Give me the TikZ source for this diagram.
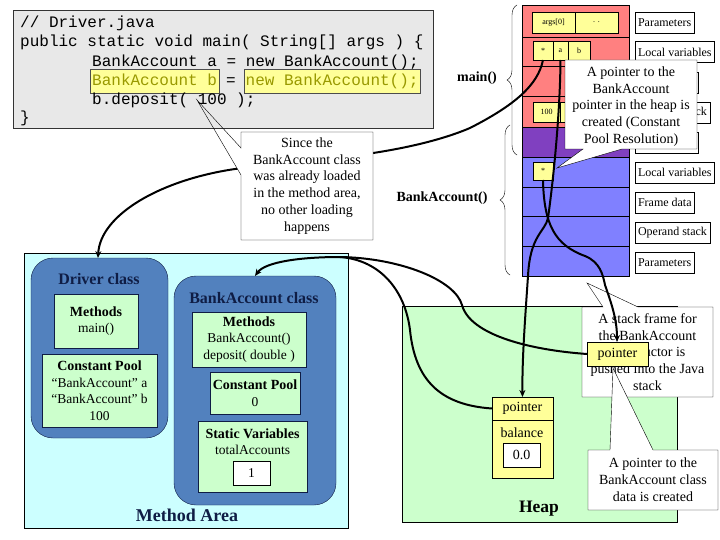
\documentclass[tikz,border=0pt]{standalone}
\usepackage{fontspec}
\setmainfont{Liberation Serif}
\setmonofont{Liberation Mono}
\usepackage{tikz}
\usetikzlibrary{arrows.meta, positioning, calc, decorations.pathreplacing}
\definecolor{jvmsalmon}{HTML}{FF8080}
\definecolor{jvmpurple}{HTML}{8040C0}
\definecolor{jvmblue}{HTML}{8080FF}
\definecolor{jvmyellow}{HTML}{FFFF99}
\definecolor{jvmgreen}{HTML}{CCFFCC}
\definecolor{jvmcyan}{HTML}{CCFFFF}
\definecolor{jvmclass}{HTML}{5281BE}
\definecolor{jvmnavy}{HTML}{0F1D45}
\definecolor{jvmcode}{HTML}{E8E8E8}
\definecolor{jvmolive}{HTML}{999900}

\begin{document}
\begin{tikzpicture}[x=1pt, y=-1pt,
    codeline/.style={anchor=base west, inner sep=0pt, font=\ttfamily\fontsize{16}{19}\selectfont},
    hlbox/.style={codeline, fill=jvmyellow, draw=black!70, text=jvmolive, inner xsep=2pt, inner ysep=4pt, text height=13pt, text depth=3pt},
    cell/.style={draw=black, fill=jvmyellow, inner sep=0pt, outer sep=0pt, anchor=north west, font=\fontsize{8}{9}\selectfont},
    slabel/.style={draw=black, fill=white, inner xsep=3pt, inner ysep=0pt, outer sep=0pt, minimum height=21, anchor=west, font=\fontsize{12}{14}\selectfont},
    calltext/.style={align=center, inner sep=0pt, font=\fontsize{14}{16.8}\selectfont},
    greenbox/.style={draw=jvmnavy, fill=jvmgreen, inner sep=0pt, outer sep=0pt, anchor=north west, align=center, font=\fontsize{13.5}{16.5}\selectfont},
    classbox/.style={draw=jvmnavy, fill=jvmclass, rounded corners=22pt, inner sep=0pt, outer sep=0pt, anchor=north west},
    ptr/.style={line width=2pt, -{Stealth[length=7pt, width=6pt]}},
    wire/.style={line width=2pt}
]
    \useasboundingbox (0,0) rectangle (720,540);

    % Java stack
    \fill[jvmsalmon] (522,5) rectangle (629,127);
    \fill[jvmpurple] (522,127) rectangle (629,157);
    \fill[jvmblue] (522,157) rectangle (629,276);
    \draw (522,5) rectangle (629,276);
    \foreach \y in {37,66,96,127,157,187,216,246}
        \draw (522,\y) -- (629,\y);

    \node[cell, minimum width=43, minimum height=21] (args) at (532,12) {args[0]};
    \node[cell, minimum width=43, minimum height=21] (dots) at (575,12) {. .};
    \node[cell, minimum width=20, minimum height=19] (mstar) at (533,41) {*};
    \node[cell, minimum width=15, minimum height=19] (ma) at (553,41) {a};
    \node[cell, minimum width=22, minimum height=19] (mb) at (568,41) {b};
    \node[cell, minimum width=27, minimum height=20] (hundred) at (533,102) {100};
    \node[cell, minimum width=40, minimum height=20] (nextcell) at (560,102) {};
    \node[cell, minimum width=20, minimum height=18] (bstar) at (533,162) {*};

    \node[slabel] (mparams) at (635,22.5) {Parameters};
    \node[slabel] (mlocals) at (635,52) {Local variables};
    \node[slabel, minimum width=63] (mframe) at (635,82.5) {};
    \node[slabel] (mopstack) at (635,112.5) {\phantom{Operand sta}ck};
    \node[slabel, minimum width=63] (mshared) at (635,142.5) {};
    \node[slabel] (blocals) at (635,172.5) {Local variables};
    \node[slabel] (bframe) at (635,202.5) {Frame data};
    \node[slabel] (bopstack) at (635,232.5) {Operand stack};
    \node[slabel] (bparams) at (635,262.5) {Parameters};

    % Frame braces
    \draw[decorate, decoration={brace, amplitude=10pt}] (517,155) -- (517,5);
    \draw[decorate, decoration={brace, amplitude=10pt}] (510,275) -- (510,125);
    \node[font=\bfseries\fontsize{14}{16}\selectfont] (mainlbl) at (477,78) {main()};
    \node[font=\bfseries\fontsize{14}{16}\selectfont] (ctorlbl) at (442,198) {BankAccount()};

    % Heap
    \draw[fill=jvmgreen] (402,306) rectangle (677,522);
    \node[font=\bfseries\fontsize{17.5}{20}\selectfont] (heaplbl) at (539,509) {Heap};
    \node[cell, minimum width=61, minimum height=23, font=\fontsize{14}{16}\selectfont] (hptr) at (492,397) {pointer};
    \node[cell, minimum width=61, minimum height=58] (hbody) at (492,420) {};
    \node[font=\fontsize{14}{16}\selectfont] (hbal) at (522,433) {balance};
    \node[draw=black, fill=white, minimum width=37, minimum height=24, inner sep=0pt, font=\fontsize{14}{16}\selectfont] (hval) at (521.5,455) {0.0};

    % Method area
    \draw[fill=jvmcyan] (24,253) rectangle (348,528);
    \node[font=\bfseries\fontsize{18}{20}\selectfont, text=jvmnavy] (malbl) at (187,515) {Method Area};

    \node[classbox, minimum width=137, minimum height=180] (drv) at (31,258) {};
    \node[font=\bfseries\fontsize{16}{18}\selectfont, text=jvmnavy] (drvlbl) at (99,279) {Driver class};
    \node[greenbox, minimum width=84, minimum height=54] (drvmeth) at (54,294)
        {\textbf{\fontsize{14}{16.5}\selectfont Methods}\\main()};
    \node[greenbox, minimum width=115, minimum height=73] (drvpool) at (42,354)
        {\textbf{\fontsize{14}{16.5}\selectfont Constant Pool}\\“BankAccount” a\\“BankAccount” b\\100};

    \node[classbox, minimum width=162, minimum height=229] (bac) at (174,276) {};
    \node[font=\bfseries\fontsize{16}{18}\selectfont, text=jvmnavy] (baclbl) at (254,298) {BankAccount class};
    \node[greenbox, minimum width=114, minimum height=55] (bacmeth) at (192,312)
        {\textbf{\fontsize{14}{16.5}\selectfont Methods}\\BankAccount()\\deposit( double )};
    \node[greenbox, minimum width=90, minimum height=42] (bacpool) at (210,372)
        {\textbf{\fontsize{14}{16.5}\selectfont Constant Pool}\\0};
    \node[greenbox, minimum width=109, minimum height=71] (bacstat) at (198,421) {};
    \node[align=center, inner sep=0pt, font=\fontsize{13.5}{16.5}\selectfont] (bacstatlbl) at (252.5,441.5)
        {\textbf{\fontsize{14}{16.5}\selectfont Static Variables}\\totalAccounts};
    \node[draw=black, fill=white, minimum width=37, minimum height=24, inner sep=0pt, font=\fontsize{13.5}{16}\selectfont] (bacval) at (251.5,473) {1};

    % main's first local var back to the Driver class
    \draw[ptr] (mstar.south) .. controls (538,85) and (515,105) .. (470,128)
        .. controls (430,145) and (380,152) .. (360,155)
        -- (235,169) .. controls (160,180) and (100,215) .. (drv.north -| 98,258);

    % Callout: class already loaded
    \fill[white] (241,132) -- (373,132) -- (373,240) -- (241,240) -- (241,175) -- (197,100) -- (241,148) -- cycle;

    % Code
    \draw[fill=jvmcode, draw=black!80] (13,10) rectangle (433,128);
    \node[codeline] (c1) at (20,28) {// Driver.java};
    \node[codeline] (c2) at (20,47) {public static void main( String[] args ) \{};
    \node[codeline] (c3) at (92,67) {BankAccount a = new BankAccount();};
    \node[hlbox] (c4a) at (90,86) {BankAccount b};
    \node[codeline] (c4b) at (226,86) {=};
    \node[hlbox] (c4c) at (243.5,86) {new BankAccount();};
    \node[codeline] (c5) at (92,105) {b.deposit( 100 );};
    \node[codeline] (c6) at (20,123) {\}};

    \draw (241,132) -- (373,132) -- (373,240) -- (241,240) -- (241,175) -- (197,100) -- (241,148) -- cycle;
    \node[calltext] (loadedtxt) at (307,186)
        {Since the\\BankAccount class\\was already loaded\\in the method area,\\no other loading\\happens};

    % Callout: constant pool resolution
    \draw[fill=white] (565,60) -- (697,60) -- (697,149) -- (622,149) -- (557,168) -- (583,149) -- (565,149) -- cycle;
    \node[calltext] (resolvetxt) at (631,106.5)
        {A pointer to the\\BankAccount\\pointer in the heap is\\created (Constant\\Pool Resolution)};

    % Callout: new stack frame
    \draw[fill=white] (582,307) -- (603,307) -- (587,283) -- (638,307) -- (713,307) -- (713,397) -- (582,397) -- cycle;
    \node[calltext] (frametxt) at (647.5,352)
        {A stack frame for\\the BankAccount\\constructor is\\pushed into the Java\\stack};

    % Stack references into the heap
    \draw[ptr] (ma.south) .. controls (560,120) and (552,190) .. (548,218)
        .. controls (545,232) and (530,235) .. (528,276)
        .. controls (525,320) and (522,360) .. (hptr.north);
    \coordinate (fptrtop) at (617,342);
    \draw[ptr] (bstar.south) .. controls (544,225) and (555,245) .. (585,256)
        .. controls (600,262) and (603,275) .. (605,285)
        .. controls (612,305) and (617,320) .. (fptrtop);

    % Heap objects back to the BankAccount class
    \node[cell, minimum width=61, minimum height=24, font=\fontsize{14}{16}\selectfont] (fptr) at (587,342) {pointer};
    \draw[wire] (fptr.west) .. controls (530,350) and (470,335) .. (462,305)
        .. controls (455,280) and (400,258) .. (340,257);
    \draw[ptr] (hptr.west) .. controls (440,405) and (415,380) .. (410,330)
        .. controls (405,290) and (380,260) .. (340,257)
        .. controls (300,257) and (265,262) .. (bac.north -| 255,276);

    % Callout: class data pointer
    \draw[fill=white] (588,450) -- (610,450) -- (613,368) -- (653,450) -- (718,450) -- (718,510) -- (588,510) -- cycle;
    \node[calltext] (classdatatxt) at (653,480)
        {A pointer to the\\BankAccount class\\data is created};
\end{tikzpicture}
\end{document}
